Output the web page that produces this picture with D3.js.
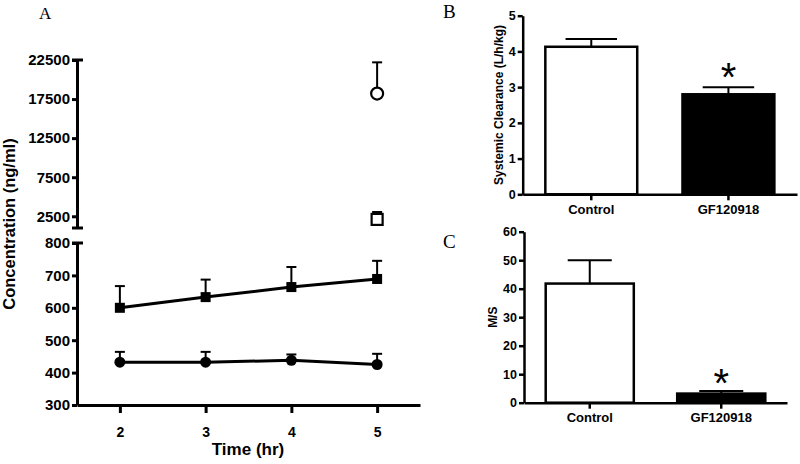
<!DOCTYPE html>
<html>
<head>
<meta charset="utf-8">
<script src="https://cdn.jsdelivr.net/npm/d3@7"></script>
<style>
  html, body { margin: 0; padding: 0; background: #fff; }
  svg { display: block; }
  text { font-family: "Liberation Sans", Arial, sans-serif; font-weight: bold; fill: #000; }
  .panel-letter { font-family: "Liberation Serif", "Times New Roman", serif; font-weight: normal; }
</style>
</head>
<body>
<svg id="chart" width="800" height="464"></svg>
<script>
// ---------- Panel A data ----------
const times = [2, 3, 4, 5];
const gfMean = [600, 633, 664, 689];          // filled squares
const gfSem = [67, 54, 62, 56];
const ctrlMean = [432, 432, 438, 425];        // filled circles
const ctrlSem = [32, 32, 18, 33];
const openTime = [5];
const openCircleMean = [18200];               // open circle (upper segment)
const openCircleSem = [4000];
const openSquareMean = [2100];                // open square (upper segment)
const openSquareSem = [950];
const upperTicks = [2500, 7500, 12500, 17500, 22500];
const lowerTicks = [300, 400, 500, 600, 700, 800];

// ---------- Panel B data ----------
const groups = ["Control", "GF120918"];
const clearanceMean = [4.13, 2.80];
const clearanceSem = [0.22, 0.20];
const clearanceTicks = [0, 1, 2, 3, 4, 5];

// ---------- Panel C data ----------
const msMean = [41.8, 3.2];
const msSem = [8.2, 0.9];
const msTicks = [0, 10, 20, 30, 40, 50, 60];

const svg = d3.select("#chart");

function styleAxis(g, sw) {
  g.selectAll("path.domain").attr("stroke", "#000").attr("stroke-width", sw);
  g.selectAll(".tick line").attr("stroke", "#000").attr("stroke-width", sw);
  g.selectAll(".tick text").attr("fill", "#000");
}
function styleTickText(g, size) {
  g.selectAll(".tick text").style("font-size", size).style("font-family", "Liberation Sans, Arial").style("font-weight", "bold");
}

// ================= PANEL A =================
const xA = d3.scaleLinear().domain([1.5, 5.5]).range([77, 420]);
const yLow = d3.scaleLinear().domain([300, 800]).range([405, 243]);
const yHigh = d3.scaleLinear().domain([1000, 22500]).range([228, 60]);

const gUp = svg.append("g").attr("transform", `translate(${xA(1.5)},0)`)
  .call(d3.axisLeft(yHigh).tickValues(upperTicks).tickFormat(d3.format("d")).tickSize(5).tickSizeOuter(0).tickPadding(2));
styleTickText(gUp, "15px");
styleAxis(gUp, 3);
const gLow = svg.append("g").attr("transform", `translate(${xA(1.5)},0)`)
  .call(d3.axisLeft(yLow).tickValues(lowerTicks).tickFormat(d3.format("d")).tickSize(5).tickSizeOuter(0).tickPadding(2));
styleTickText(gLow, "15px");
styleAxis(gLow, 3);
// break caps
const capsA = [yHigh(1000), yLow(800), yHigh(22500)];
svg.append("g").selectAll("line").data(capsA).join("line")
  .attr("x1", xA(1.5) - 5).attr("x2", xA(1.5) + 6)
  .attr("y1", d => d).attr("y2", d => d)
  .attr("stroke", "#000").attr("stroke-width", 3);

const gXA = svg.append("g").attr("transform", `translate(0,${yLow(300)})`)
  .call(d3.axisBottom(xA).tickValues(times).tickFormat(d3.format("d")).tickSize(8).tickSizeOuter(0).tickPadding(14));
styleTickText(gXA, "14px");
styleAxis(gXA, 3);

svg.append("text").attr("x", 248).attr("y", 455).attr("text-anchor", "middle")
  .style("font-size", "17px").text("Time (hr)");
svg.append("text").attr("transform", "translate(15,224) rotate(-90)").attr("text-anchor", "middle")
  .style("font-size", "16.5px").text("Concentration (ng/ml)");
svg.append("text").attr("class", "panel-letter").attr("x", 39).attr("y", 19)
  .style("font-size", "17px").text("A");

const lineLow = d3.line().x((d, i) => xA(times[i])).y(d => yLow(d));
const gA = svg.append("g");
function errUp(g, xs, means, sems, y, capW, sw) {
  g.append("g").selectAll("line").data(means).join("line")
    .attr("x1", (d, i) => xs(i)).attr("x2", (d, i) => xs(i))
    .attr("y1", d => y(d)).attr("y2", (d, i) => y(d + sems[i]))
    .attr("stroke", "#000").attr("stroke-width", sw);
  g.append("g").selectAll("line").data(means).join("line")
    .attr("x1", (d, i) => xs(i) - capW / 2).attr("x2", (d, i) => xs(i) + capW / 2)
    .attr("y1", (d, i) => y(d + sems[i])).attr("y2", (d, i) => y(d + sems[i]))
    .attr("stroke", "#000").attr("stroke-width", sw);
}
errUp(gA, i => xA(times[i]), gfMean, gfSem, yLow, 10, 2);
errUp(gA, i => xA(times[i]), ctrlMean, ctrlSem, yLow, 10, 2);
errUp(gA, i => xA(openTime[i]), openCircleMean, openCircleSem, yHigh, 10, 2);
errUp(gA, i => xA(openTime[i]), openSquareMean, openSquareSem, yHigh, 10, 2);

gA.append("path").datum(gfMean).attr("d", lineLow).attr("fill", "none").attr("stroke", "#000").attr("stroke-width", 3);
gA.append("path").datum(ctrlMean).attr("d", lineLow).attr("fill", "none").attr("stroke", "#000").attr("stroke-width", 3);

gA.append("g").selectAll("rect").data(gfMean).join("rect")
  .attr("x", (d, i) => xA(times[i]) - 5).attr("y", d => yLow(d) - 5)
  .attr("width", 10).attr("height", 10).attr("fill", "#000");
gA.append("g").selectAll("circle").data(ctrlMean).join("circle")
  .attr("cx", (d, i) => xA(times[i])).attr("cy", d => yLow(d)).attr("r", 5.5).attr("fill", "#000");
gA.append("g").selectAll("circle").data(openCircleMean).join("circle")
  .attr("cx", (d, i) => xA(openTime[i])).attr("cy", d => yHigh(d)).attr("r", 6)
  .attr("fill", "#fff").attr("stroke", "#000").attr("stroke-width", 2.2);
gA.append("g").selectAll("rect").data(openSquareMean).join("rect")
  .attr("x", (d, i) => xA(openTime[i]) - 5.5).attr("y", d => yHigh(d) - 5.5)
  .attr("width", 11).attr("height", 11)
  .attr("fill", "#fff").attr("stroke", "#000").attr("stroke-width", 2.2);

// ================= Bar panels =================
function barPanel(opts) {
  const { xRange, yDomain, yRange, ticks, means, sems, title, titleX, letter, letterY, capFrac, starGap } = opts;
  const x = d3.scaleBand().domain(groups).range(xRange).paddingInner(0.33).paddingOuter(0.165);
  const y = d3.scaleLinear().domain(yDomain).range(yRange);
  const g = svg.append("g");
  g.append("g").selectAll("rect").data(means).join("rect")
    .attr("x", (d, i) => x(groups[i])).attr("y", d => y(d))
    .attr("width", x.bandwidth()).attr("height", d => y(0) - y(d))
    .attr("fill", (d, i) => i === 0 ? "#fff" : "#000")
    .attr("stroke", "#000").attr("stroke-width", 2.5);
  const cx = i => x(groups[i]) + x.bandwidth() / 2;
  errUp(g, cx, means, sems, y, x.bandwidth() * capFrac, 2);
  const gy = g.append("g").attr("transform", `translate(${xRange[0]},0)`)
    .call(d3.axisLeft(y).tickValues(ticks).tickFormat(d3.format("d")).tickSize(5).tickSizeOuter(0).tickPadding(2));
  styleTickText(gy, "12.5px");
  styleAxis(gy, 2.5);
  const gx = g.append("g").attr("transform", `translate(0,${y(0)})`)
    .call(d3.axisBottom(x).tickSize(6).tickSizeOuter(0).tickPadding(4));
  styleTickText(gx, "13px");
  styleAxis(gx, 2.5);
  g.append("text").attr("transform", `translate(${titleX},${(yRange[0] + yRange[1]) / 2}) rotate(-90)`)
    .attr("text-anchor", "middle").style("font-size", "12px").text(title);
  g.append("text").attr("class", "panel-letter").attr("x", 443).attr("y", letterY)
    .style("font-size", "19px").text(letter);
  g.append("text").attr("x", cx(1)).attr("y", y(means[1] + sems[1]) + starGap)
    .attr("text-anchor", "middle").style("font-size", "40px").style("font-weight", "normal").text("*");
}

barPanel({
  xRange: [522.7, 797], yDomain: [0, 5], yRange: [194.3, 15.7], ticks: clearanceTicks,
  means: clearanceMean, sems: clearanceSem, title: "Systemic Clearance (L/h/kg)", titleX: 503,
  letter: "B", letterY: 18, capFrac: 0.56, starGap: 4
});
barPanel({
  xRange: [524, 787], yDomain: [0, 60], yRange: [402.7, 231.7], ticks: msTicks,
  means: msMean, sems: msSem, title: "M/S", titleX: 497,
  letter: "C", letterY: 248, capFrac: 0.5, starGap: 6
});
</script>
</body>
</html>
